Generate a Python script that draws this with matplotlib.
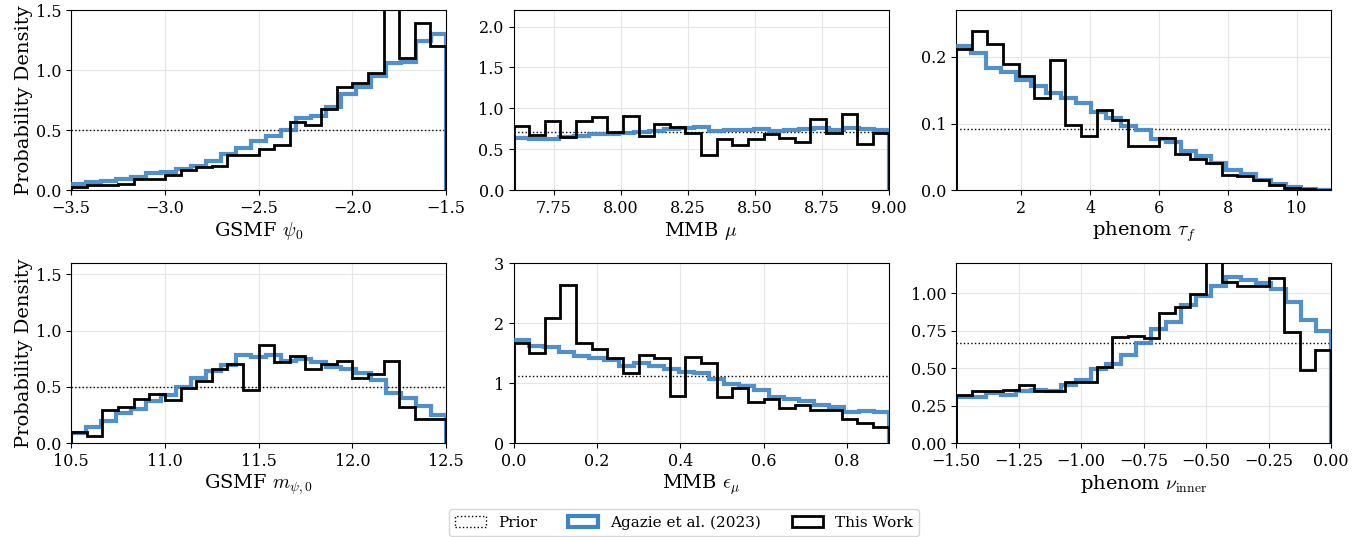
import matplotlib
matplotlib.use("Agg")
import matplotlib.pyplot as plt
import numpy as np
from matplotlib.patches import Patch

plt.rcParams["font.family"] = "DejaVu Serif"
plt.rcParams["mathtext.fontset"] = "cm"

# parameter ranges (prior bounds)
ranges = [(-3.5, -1.5), (7.6, 9.0), (0.1, 11.0),
          (10.5, 12.5), (0.0, 0.9), (-1.5, 0.0)]
xlabels = [r"GSMF $\psi_0$", r"MMB $\mu$", r"phenom $\tau_f$",
           r"GSMF $m_{\psi,0}$", r"MMB $\epsilon_\mu$", r"phenom $\nu_{\rm inner}$"]
ylims = [1.5, 2.2, 0.27, 1.6, 3.0, 1.2]

# This Work (24 bins)
work_psi0 = [0.03, 0.04, 0.04, 0.05, 0.09, 0.09, 0.13, 0.165, 0.19, 0.20, 0.29, 0.29,
             0.345, 0.38, 0.57, 0.54, 0.68, 0.86, 0.89, 0.98, 1.55, 1.10, 1.39, 1.20]
work_mu = [0.79, 0.68, 0.84, 0.65, 0.84, 0.90, 0.71, 0.91, 0.665, 0.815, 0.775, 0.695,
           0.435, 0.63, 0.55, 0.625, 0.685, 0.64, 0.59, 0.87, 0.695, 0.93, 0.57, 0.695]
work_tau = [0.212, 0.239, 0.220, 0.190, 0.172, 0.139, 0.195, 0.098, 0.082, 0.120, 0.106, 0.066,
            0.067, 0.078, 0.054, 0.047, 0.041, 0.023, 0.021, 0.015, 0.0085, 0.004, 0.0015, 0.0005]
work_mpsi = [0.10, 0.06, 0.29, 0.32, 0.39, 0.435, 0.38, 0.49, 0.55, 0.66, 0.70, 0.47,
             0.87, 0.72, 0.77, 0.66, 0.705, 0.73, 0.58, 0.61, 0.725, 0.32, 0.21, 0.215]
work_eps = [1.67, 1.50, 2.09, 2.63, 1.67, 1.56, 1.41, 1.17, 1.47, 1.41, 0.79, 1.43,
            1.34, 0.76, 0.92, 0.69, 0.74, 0.58, 0.63, 0.55, 0.55, 0.40, 0.33, 0.26]
work_nu = [0.32, 0.35, 0.345, 0.355, 0.39, 0.345, 0.345, 0.41, 0.405, 0.51, 0.71, 0.715,
           0.70, 0.87, 0.91, 0.995, 1.22, 1.075, 1.05, 1.05, 1.10, 0.74, 0.485, 0.62]

# Agazie et al. (2023) (25 bins)
ng_psi0 = [0.05, 0.065, 0.08, 0.09, 0.11, 0.14, 0.155, 0.175, 0.20, 0.245, 0.30, 0.35, 0.41,
           0.45, 0.505, 0.60, 0.62, 0.69, 0.80, 0.86, 0.95, 1.06, 1.07, 1.24, 1.30]
ng_mu = [0.64, 0.62, 0.63, 0.645, 0.66, 0.685, 0.69, 0.70, 0.705, 0.72, 0.745, 0.755, 0.77,
         0.72, 0.735, 0.74, 0.75, 0.72, 0.735, 0.745, 0.76, 0.735, 0.755, 0.745, 0.74]
ng_tau = [0.216, 0.206, 0.184, 0.178, 0.166, 0.157, 0.146, 0.138, 0.131, 0.117, 0.108, 0.096, 0.090,
          0.077, 0.072, 0.059, 0.051, 0.041, 0.031, 0.025, 0.016, 0.010, 0.005, 0.0025, 0.001]
ng_mpsi = [0.09, 0.145, 0.20, 0.265, 0.30, 0.375, 0.425, 0.50, 0.575, 0.64, 0.69, 0.785, 0.765,
           0.785, 0.725, 0.745, 0.72, 0.68, 0.66, 0.62, 0.56, 0.445, 0.40, 0.33, 0.245]
ng_eps = [1.71, 1.62, 1.60, 1.52, 1.45, 1.41, 1.38, 1.28, 1.34, 1.29, 1.24, 1.18, 1.17,
          1.07, 0.99, 0.95, 0.88, 0.77, 0.74, 0.70, 0.64, 0.60, 0.51, 0.53, 0.52]
ng_nu = [0.31, 0.31, 0.335, 0.32, 0.35, 0.355, 0.35, 0.39, 0.42, 0.495, 0.53, 0.59, 0.67,
         0.76, 0.81, 0.92, 0.98, 1.05, 1.11, 1.09, 1.07, 1.025, 0.94, 0.82, 0.745]

work = [work_psi0, work_mu, work_tau, work_mpsi, work_eps, work_nu]
ng15 = [ng_psi0, ng_mu, ng_tau, ng_mpsi, ng_eps, ng_nu]

blue = "#3d85c6"

fig, axes = plt.subplots(2, 3, figsize=(13.68, 5.37), dpi=100)
fig.subplots_adjust(left=0.052, right=0.973, top=0.981, bottom=0.175,
                    wspace=0.18, hspace=0.405)

for i, ax in enumerate(axes.flat):
    lo, hi = ranges[i]
    e_ng = np.linspace(lo, hi, len(ng15[i]) + 1)
    e_w = np.linspace(lo, hi, len(work[i]) + 1)
    ax.grid(True, color="#e6e6e6", lw=0.8, zorder=0)
    ax.axhline(1.0 / (hi - lo), color="k", ls=":", lw=1.0, zorder=2)
    ax.stairs(ng15[i], e_ng, baseline=0, color=blue, lw=3, alpha=0.9, zorder=3)
    ax.stairs(work[i], e_w, baseline=0, color="k", lw=2, zorder=4)
    ax.set_xlim(lo, hi)
    ax.set_ylim(0, ylims[i])
    ax.set_xlabel(xlabels[i], fontsize=14, labelpad=2)
    ax.tick_params(labelsize=11.5)
    if i % 3 == 0:
        ax.set_ylabel("Probability Density", fontsize=14, labelpad=2)

axes[0, 0].set_xticks([-3.5, -3.0, -2.5, -2.0, -1.5])
axes[0, 1].set_xticks([7.75, 8.0, 8.25, 8.5, 8.75, 9.0])
axes[0, 2].set_xticks([2, 4, 6, 8, 10])
axes[0, 2].set_yticks([0, 0.1, 0.2])
axes[1, 0].set_xticks([10.5, 11.0, 11.5, 12.0, 12.5])
axes[1, 1].set_yticks([0, 1, 2, 3])
axes[1, 2].set_xticks([-1.5, -1.25, -1.0, -0.75, -0.5, -0.25, 0.0])

handles = [Patch(facecolor="white", edgecolor="k", ls=":", lw=1.0, label="Prior"),
           Patch(facecolor="white", edgecolor=blue, lw=3, label="Agazie et al. (2023)"),
           Patch(facecolor="white", edgecolor="k", lw=2, label="This Work")]
fig.legend(handles=handles, loc="lower center", ncol=3, fontsize=11,
           bbox_to_anchor=(0.5, -0.012), frameon=True, columnspacing=2.0)

fig.savefig("out.png", dpi=100)
